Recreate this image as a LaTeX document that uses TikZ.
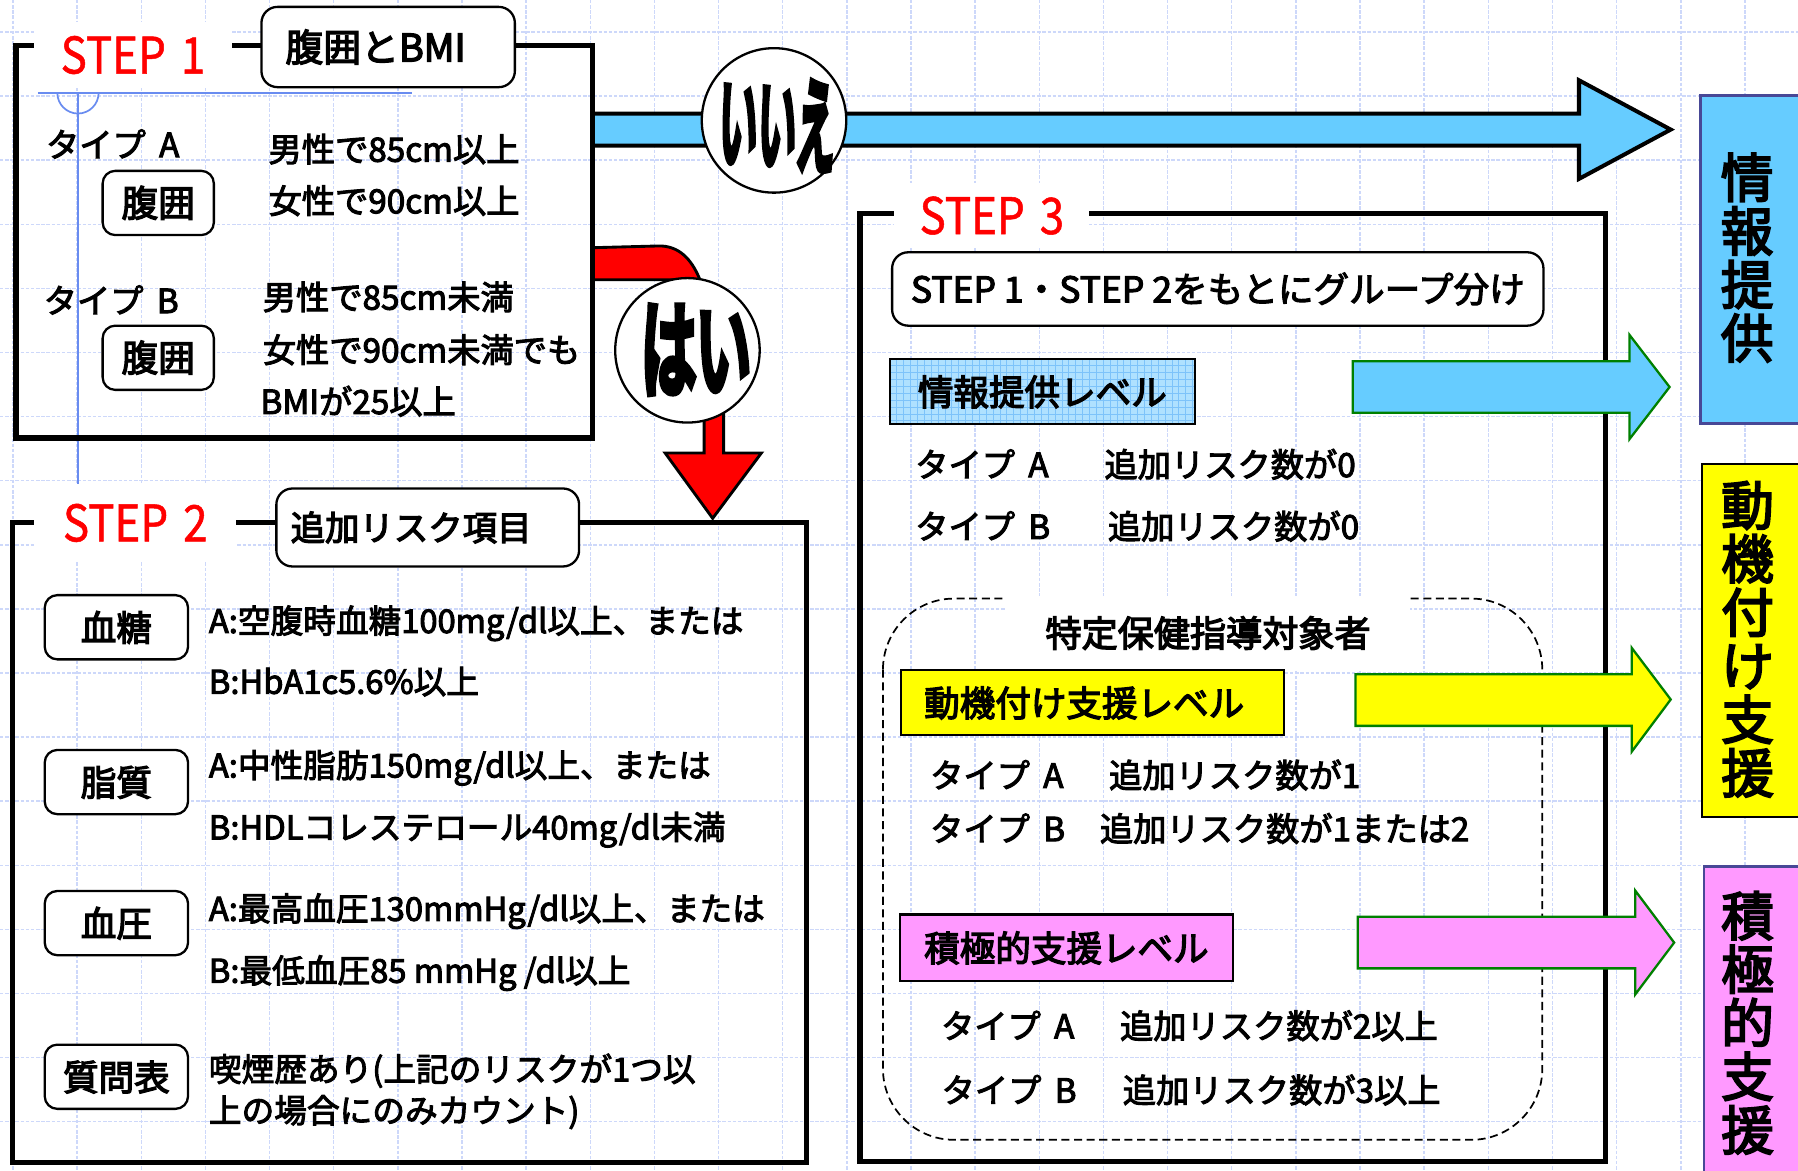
\documentclass[tikz,border=0pt]{standalone}
\usepackage{fontspec}
\usepackage{graphicx}
\newfontfamily\jpr{Noto Sans CJK JP}[FakeBold=3]
\newfontfamily\jpb{Noto Sans CJK JP}[FakeBold=3.6]
\newfontfamily\jpx{Noto Sans CJK JP}[FakeBold=10]
\newfontfamily\stepf{Noto Sans CJK JP}[FakeStretch=0.87,FakeBold=1]
\definecolor{gridc}{RGB}{205,216,250}
\definecolor{guide}{RGB}{105,140,240}
\definecolor{skyb}{RGB}{102,204,255}
\definecolor{pinkc}{RGB}{255,153,255}
\definecolor{yelc}{RGB}{255,255,0}
\definecolor{arrgreen}{RGB}{0,128,0}
\definecolor{navyb}{RGB}{72,72,150}
\definecolor{lvlblue}{RGB}{175,225,255}
\definecolor{lvlgrid}{RGB}{125,195,250}
\tikzset{
 gridline/.style={draw=gridc, line width=1.3pt, dash pattern=on 3pt off 1.5pt},
 frame/.style={draw=black, line width=4.5pt, inner sep=0pt},
 steplbl/.style={fill=white, text=red, font=\stepf\fontsize{44}{44}\selectfont, inner sep=0pt},
 titlebox/.style={draw=black, fill=white, line width=2pt, rounded corners=14pt, inner sep=0pt},
 itembox/.style={draw=black, fill=white, line width=2pt, rounded corners=11pt, inner sep=0pt, minimum width=125pt, minimum height=56pt, font=\jpb\fontsize{31}{31}\selectfont, text height=26pt, text depth=2pt},
 body/.style={anchor=west, inner sep=0pt, font=\jpr\fontsize{29}{29}\selectfont, text height=24pt, text depth=2pt},
 bodyb/.style={body, font=\jpr\fontsize{28.5}{28.5}\selectfont},
 lvlbox/.style={draw=black, line width=2pt, inner sep=0pt, font=\jpb\fontsize{31}{31}\selectfont, text height=26pt, text depth=2pt},
 answer/.style={circle, draw=black, fill=white, line width=2pt, minimum size=126pt, inner sep=0pt},
 bigarrow/.style={line width=3.5pt, draw=black, fill=skyb, line join=miter},
 lvlarrow/.style={line width=2pt, draw=arrgreen, line join=miter},
 tgtbox/.style={line width=2.2pt, anchor=north west, minimum width=92pt, inner sep=0pt},
 vtext/.style={font=\jpb\fontsize{46}{46.7}\selectfont, align=center, inner sep=0pt},
}
\begin{document}
\begin{tikzpicture}[x=1pt,y=-1pt]
\useasboundingbox (0,0) rectangle (1568,1021);
\clip (0,0) rectangle (1568,1021);
\fill[white] (0,0) rectangle (1568,1021);
% background grid
\foreach \k in {0,...,27} \draw[gridline] ({11.3+55.94*\k},0) -- ({11.3+55.94*\k},1021);
\foreach \k in {0,...,17} \draw[gridline] (0,{27.9+55.9*\k}) -- (1568,{27.9+55.9*\k});
% guide lines
\draw[guide, line width=1.5pt] (33,81) -- (359,81);
\draw[guide, line width=1.5pt] (68,81) -- (68,490);
\draw[guide, line width=1.5pt] (50,81) arc[start angle=180, end angle=0, radius=18];
% main arrows
\draw[bigarrow] (517,99) -- (1377,99) -- (1377,70) -- (1457,113) -- (1377,156) -- (1377,127) -- (517,127) -- cycle;
\draw[fill=red, draw=black, line width=2.5pt, line join=miter] (517,216) -- (574,214.5) .. controls (592,214) and (603,226) .. (610,243) -- (631,300) -- (631,395) -- (664,395) -- (621.5,452) -- (580,395) -- (614,395) -- (614,300) -- (590,244) -- (517,244) -- cycle;
% frames
\node[frame, minimum width=503pt, minimum height=342pt] (f1) at (265.5,211) {};
\node[frame, minimum width=692pt, minimum height=558pt] (f2) at (357,735) {};
\node[frame, minimum width=650pt, minimum height=827pt] (f3) at (1075,599.5) {};
% STEP 1
\node[steplbl, minimum width=172pt, minimum height=58pt] (s1) at (116,48) {STEP\hspace{0.3em}1};
\node[titlebox, minimum width=221pt, minimum height=70pt, font=\jpb\fontsize{33}{33}\selectfont] (tb1) at (338.5,41) {腹囲とBMI\hspace*{22pt}};
\node[body] (ta1) at (40,126) {タイプ\hspace{0.4em}A};
\node[itembox, minimum width=97pt, font=\jpb\fontsize{32}{32}\selectfont] (fa) at (138,177) {腹囲};
\node[body] (a1) at (234,130) {男性で85cm以上};
\node[body] (a2) at (234,175) {女性で90cm以上};
\node[body] (tb1b) at (38,262) {タイプ\hspace{0.4em}B};
\node[itembox, minimum width=97pt, font=\jpb\fontsize{32}{32}\selectfont] (fb) at (138,312) {腹囲};
\node[body] (b1) at (229,259) {男性で85cm未満};
\node[body] (b2) at (229,305) {女性で90cm未満でも};
\node[body] (b3) at (227,350) {BMIが25以上};
% STEP 2
\node[steplbl, minimum width=176pt, minimum height=68pt] (s2) at (118,456) {STEP\hspace{0.3em}2};
\node[titlebox, minimum width=264pt, minimum height=68pt, font=\jpb\fontsize{30}{30}\selectfont] (tb2) at (373,460) {追加リスク項目\hspace*{29pt}};
\node[itembox] (k1) at (101.5,547) {血糖};
\node[itembox] (k2) at (101.5,682) {脂質};
\node[itembox] (k3) at (101.5,805) {血圧};
\node[itembox] (k4) at (101.5,939) {質問表};
\node[bodyb] (r1) at (182,541) {A:空腹時血糖100mg/dl以上、または};
\node[bodyb] (r2) at (182,594) {B:HbA1c5.6\%以上};
\node[bodyb] (r3) at (182,667) {A:中性脂肪150mg/dl以上、または};
\node[bodyb] (r4) at (182,721) {B:HDLコレステロール40mg/dl未満};
\node[bodyb] (r5) at (182,792) {A:最高血圧130mmHg/dl以上、または};
\node[bodyb] (r6) at (182,846) {B:最低血圧85 mmHg /dl以上};
\node[bodyb] (r7) at (182,932) {喫煙歴あり(上記のリスクが1つ以};
\node[bodyb] (r8) at (182,968) {上の場合にのみカウント)};
% STEP 3
\node[steplbl, minimum width=170pt, minimum height=56pt] (s3) at (865,188) {STEP\hspace{0.3em}3};
\node[titlebox, minimum width=568pt, minimum height=64pt, font=\jpr\fontsize{31}{31}\selectfont] (tb3) at (1062,252) {STEP 1・STEP 2をもとにグループ分け};
\node[lvlbox, fill=lvlblue, minimum width=266pt, minimum height=57pt,
  path picture={
   \foreach \k in {1,...,45} \draw[lvlgrid, line width=0.6pt] ([xshift=\k*6pt]path picture bounding box.north west) -- ([xshift=\k*6pt]path picture bounding box.south west);
   \foreach \k in {1,...,10} \draw[lvlgrid, line width=0.6pt] ([yshift=-\k*6pt]path picture bounding box.north west) -- ([yshift=-\k*6pt]path picture bounding box.north east);
  }] (l1) at (909,341.5) {情報提供レベル};
\node[body] (l1a) at (798,405) {タイプ\hspace{0.4em}A};
\node[body] (l1ar) at (963,405) {追加リスク数が0};
\node[body] (l1b) at (798,459) {タイプ\hspace{0.4em}B};
\node[body] (l1br) at (966,459) {追加リスク数が0};
% dashed group
\draw[dashed, dash pattern=on 7pt off 4pt, line width=1.5pt, rounded corners=62pt] (770,522) rectangle (1345,994);
\node[fill=white, minimum width=353pt, minimum height=64pt, inner sep=0pt, font=\jpb\fontsize{31.5}{31.5}\selectfont, text height=26pt, text depth=2pt] (grp) at (1053.5,552) {特定保健指導対象者};
\node[lvlbox, fill=yelc, minimum width=334pt, minimum height=56.5pt] (l2) at (953,612.75) {動機付け支援レベル\hspace*{15pt}};
\node[body] (l2a) at (811,676) {タイプ\hspace{0.4em}A};
\node[body] (l2ar) at (967,676) {追加リスク数が1};
\node[body] (l2b) at (811,722.6) {タイプ\hspace{0.4em}B};
\node[body] (l2br) at (959,722.6) {追加リスク数が1または2};
\node[lvlbox, fill=pinkc, minimum width=290pt, minimum height=58pt] (l3) at (930,826.5) {積極的支援レベル};
\node[body] (l3a) at (820.5,894.6) {タイプ\hspace{0.4em}A};
\node[body] (l3ar) at (976.6,894.6) {追加リスク数が2以上};
\node[body] (l3b) at (821,950.6) {タイプ\hspace{0.4em}B};
\node[body] (l3br) at (979,950.6) {追加リスク数が3以上};
% level arrows
\draw[lvlarrow, fill=skyb] (1179.6,315) -- (1421,315) -- (1421,292) -- (1456,337.5) -- (1421,383) -- (1421,360) -- (1179.6,360) -- cycle;
\draw[lvlarrow, fill=yelc] (1182,588) -- (1423,588) -- (1423,565) -- (1457,610) -- (1423,655.5) -- (1423,633) -- (1182,633) -- cycle;
\draw[lvlarrow, fill=pinkc] (1184,799.4) -- (1426,799.4) -- (1426,776.6) -- (1460,822) -- (1426,867.3) -- (1426,844.5) -- (1184,844.5) -- cycle;
% answer circles
\node[answer] (no) at (675,105) {};
\node[inner sep=0pt, font=\jpx\fontsize{40}{40}\selectfont, rotate=-3] (notxt) at (678,108) {\scalebox{0.85}[2.25]{いいえ}};
\node[answer] (yes) at (599.5,305.5) {};
\node[inner sep=0pt, font=\jpx\fontsize{48}{48}\selectfont] (yestxt) at (607,305) {\scalebox{1.0}[1.9]{はい}};
% target boxes
\node[tgtbox, draw=navyb, fill=skyb, minimum height=286pt] (t1) at (1482,82) {};
\node[vtext] (t1t) at (1523.6,224.7) {情\\報\\提\\供};
\node[tgtbox, draw=black, fill=yelc, minimum height=308pt] (t2) at (1483,403.5) {};
\node[vtext] (t2t) at (1524,557.5) {動\\機\\付\\け\\支\\援};
\node[tgtbox, draw=navyb, fill=pinkc, minimum height=280pt] (t3) at (1485,754.4) {};
\node[vtext] (t3t) at (1524,892) {積\\極\\的\\支\\援};
\end{tikzpicture}
\end{document}
